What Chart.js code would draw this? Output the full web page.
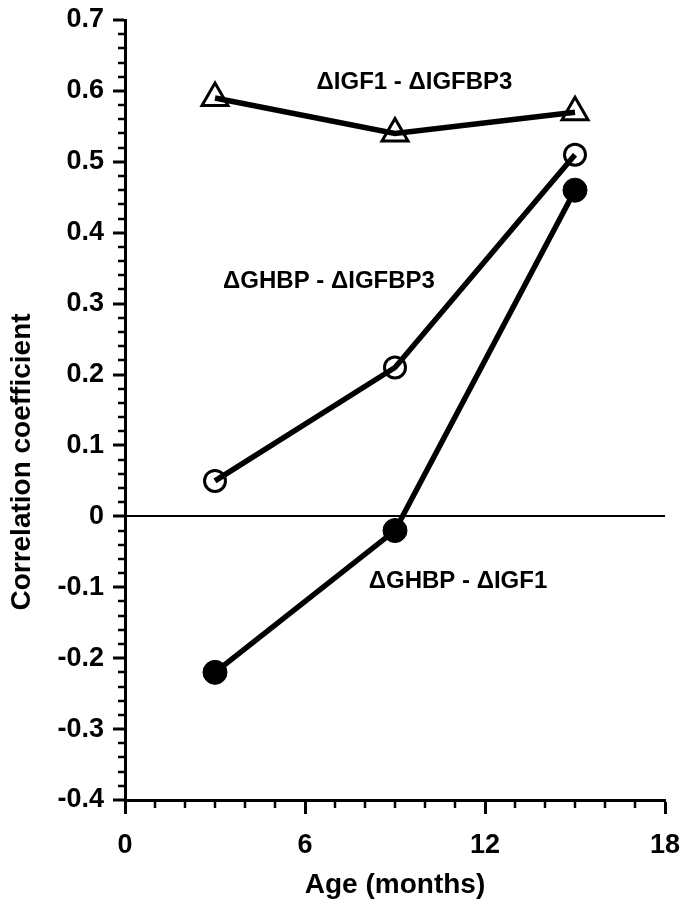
<!DOCTYPE html>
<html>
<head>
<meta charset="utf-8">
<script src="https://cdn.jsdelivr.net/npm/chart.js@4"></script>
<style>
  html, body { margin: 0; padding: 0; background: #fff; }
  #wrap { width: 683px; height: 904px; }
</style>
</head>
<body>
<div id="wrap"><canvas id="c" width="683" height="904"></canvas></div>
<script>
// ---- data ----
const months = [3, 9, 15];
const igf1_igfbp3 = [0.59, 0.54, 0.57];
const ghbp_igfbp3 = [0.05, 0.21, 0.51];
const ghbp_igf1 = [-0.22, -0.02, 0.46];

const seriesLabels = ['\u0394IGF1 - \u0394IGFBP3', '\u0394GHBP - \u0394IGFBP3', '\u0394GHBP - \u0394IGF1'];
const labelAnchorX = [9.65, 6.8, 11.1];
const labelAnchorY = [0.612, 0.331, -0.092];

const xTicks = [0, 6, 12, 18];
const yTickLabels = ['-0.4','-0.3','-0.2','-0.1','0','0.1','0.2','0.3','0.4','0.5','0.6','0.7'];
const yTitle = 'Correlation coefficient';
const xTitle = 'Age (months)';

const FONT = "'Liberation Sans', Arial, sans-serif";

function pts(ys) { return months.map((m, i) => ({ x: m, y: ys[i] })); }

const minorTicks = {
  id: 'minorTicks',
  afterDraw(chart) {
    const ctx = chart.ctx, xs = chart.scales.x, ys = chart.scales.y;
    ctx.save();
    ctx.strokeStyle = '#000';
    ctx.lineWidth = 2.5;
    ctx.beginPath();
    for (let v = 0; v <= 18; v++) {
      if (v % 6 === 0) continue;
      const px = Math.round(xs.getPixelForValue(v));
      ctx.moveTo(px, ys.bottom);
      ctx.lineTo(px, ys.bottom + 8);
    }
    for (let k = -20; k <= 35; k++) {
      if (k % 5 === 0) continue;
      const py = Math.round(ys.getPixelForValue(k * 0.02));
      ctx.moveTo(xs.left, py);
      ctx.lineTo(xs.left - 7, py);
    }
    ctx.stroke();
    ctx.restore();
  }
};

const textLayer = {
  id: 'textLayer',
  afterDatasetsDraw(chart) {
    const ctx = chart.ctx, xs = chart.scales.x, ys = chart.scales.y;
    ctx.save();
    ctx.fillStyle = '#000';
    ctx.font = 'bold 24px ' + FONT;
    ctx.textAlign = 'center';
    ctx.textBaseline = 'middle';
    seriesLabels.forEach((t, i) => {
      ctx.fillText(t, xs.getPixelForValue(labelAnchorX[i]), ys.getPixelForValue(labelAnchorY[i]));
    });
    // y axis title (placed lower than centre, as in the reference)
    ctx.font = 'bold 28px ' + FONT;
    ctx.translate(22, (ys.top + ys.bottom) / 2 + 52);
    ctx.rotate(-Math.PI / 2);
    ctx.fillText(yTitle, 0, 0);
    ctx.restore();
  }
};

new Chart(document.getElementById('c'), {
  type: 'line',
  data: {
    datasets: [
      {
        label: seriesLabels[0], data: pts(igf1_igfbp3),
        borderColor: '#000', borderWidth: 5.5,
        pointStyle: 'triangle', pointRadius: 15,
        pointBackgroundColor: 'rgba(0,0,0,0)', pointBorderColor: '#000', pointBorderWidth: 3
      },
      {
        label: seriesLabels[1], data: pts(ghbp_igfbp3),
        borderColor: '#000', borderWidth: 5.5,
        pointStyle: 'circle', pointRadius: 10.5,
        pointBackgroundColor: 'rgba(0,0,0,0)', pointBorderColor: '#000', pointBorderWidth: 3
      },
      {
        label: seriesLabels[2], data: pts(ghbp_igf1),
        borderColor: '#000', borderWidth: 5.5,
        pointStyle: 'circle', pointRadius: 12,
        pointBackgroundColor: '#000', pointBorderColor: '#000', pointBorderWidth: 1
      }
    ]
  },
  options: {
    responsive: false,
    animation: false,
    devicePixelRatio: 1,
    layout: { padding: { top: 20, right: 12, left: 0, bottom: 0 } },
    plugins: { legend: { display: false }, tooltip: { enabled: false } },
    elements: { line: { tension: 0 } },
    scales: {
      x: {
        type: 'linear', min: 0, max: 18,
        afterFit(s) { s.height = 104; s.paddingLeft = 0; s.paddingRight = 0; },
        afterBuildTicks(s) { s.ticks = xTicks.map(v => ({ value: v })); },
        border: { display: true, color: '#000', width: 3 },
        grid: { drawOnChartArea: false, drawTicks: true, tickLength: 14, tickWidth: 3, tickColor: '#000', color: '#000' },
        ticks: { color: '#000', font: { family: FONT, size: 27, weight: 'bold' }, padding: 15, maxRotation: 0 },
        title: { display: true, text: xTitle, color: '#000', font: { family: FONT, size: 28, weight: 'bold' }, padding: { top: 0, bottom: 2 } }
      },
      y: {
        type: 'linear', min: -0.4, max: 0.7,
        afterFit(s) { s.width = 125; s.paddingTop = 0; s.paddingBottom = 0; },
        afterBuildTicks(s) { s.ticks = yTickLabels.map(t => ({ value: parseFloat(t) })); },
        border: { display: true, color: '#000', width: 3 },
        grid: {
          drawOnChartArea: true, drawTicks: true, tickLength: 12, tickWidth: 3, tickColor: '#000',
          color: c => (c.tick && Math.abs(c.tick.value) < 1e-9) ? '#000' : 'rgba(0,0,0,0)',
          lineWidth: 2
        },
        ticks: {
          color: '#000', font: { family: FONT, size: 27, weight: 'bold' }, padding: 9,
          callback: (v, i) => yTickLabels[i]
        },
        title: { display: false }
      }
    }
  },
  plugins: [minorTicks, textLayer]
});
</script>
</body>
</html>
